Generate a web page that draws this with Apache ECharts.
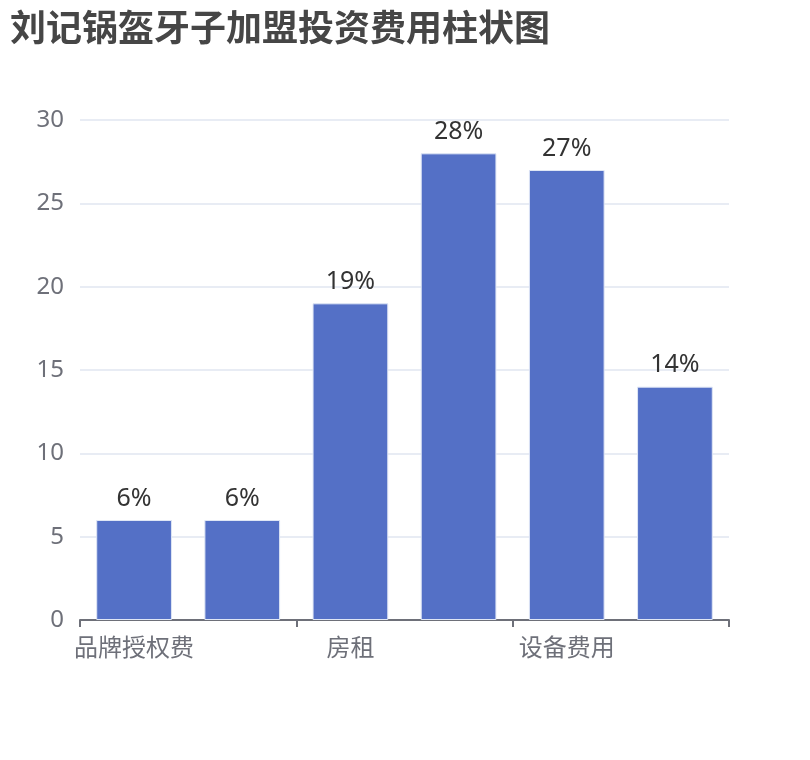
<!DOCTYPE html>
<html>
<head>
<meta charset="utf-8">
<script src="https://cdn.jsdelivr.net/npm/echarts@6/dist/echarts.min.js"></script>
<style>html,body{margin:0;padding:0;background:#fff}#main{width:810px;height:760px}</style>
</head>
<body>
<div id="main"></div>
<script>
var titleText = '刘记锅盔牙子加盟投资费用柱状图';
var categories = ['品牌授权费', '装修费用', '房租', '人员工资', '设备费用', '流动资金'];
var values = [6, 6, 19, 28, 27, 14];
var yTicks = [0, 5, 10, 15, 20, 25, 30];

var chart = echarts.init(document.getElementById('main'));
chart.setOption({
  animation: false,
  title: {
    text: titleText,
    left: 5, top: 4,
    textStyle: { fontSize: 36, fontWeight: 'bold', color: '#464646', fontFamily: 'Noto Sans CJK SC' }
  },
  grid: { left: 80, right: 81, top: 120, bottom: 140, containLabel: false },
  xAxis: {
    type: 'category',
    data: categories,
    axisLine: { lineStyle: { color: '#6E7079', width: 2 } },
    axisTick: { show: true, length: 7, lineStyle: { width: 2 } },
    axisLabel: { interval: 1, fontSize: 24, color: '#6E7079', margin: 15, fontFamily: 'Noto Sans CJK SC' }
  },
  yAxis: {
    type: 'value',
    min: yTicks[0], max: yTicks[yTicks.length - 1], interval: yTicks[1] - yTicks[0],
    axisLabel: { fontSize: 24, color: '#6E7079', margin: 16, fontFamily: 'Noto Sans' },
    splitLine: { lineStyle: { color: '#E0E6F1', width: 1.5 } }
  },
  series: [{
    type: 'bar',
    data: values,
    barWidth: '70%',
    itemStyle: { color: '#5470c6', borderColor: '#dfe6f5', borderWidth: 1 },
    label: {
      show: true, position: 'top', distance: 9,
      formatter: function (p) { return p.value + '%'; },
      fontSize: 25, color: '#333', fontFamily: 'Noto Sans'
    }
  }]
});
</script>
</body>
</html>
